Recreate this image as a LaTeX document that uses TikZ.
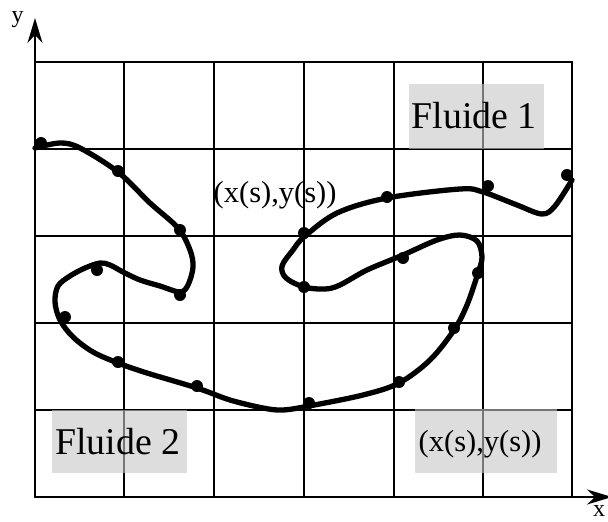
\documentclass[tikz,border=0pt]{standalone}
\usepackage{fontspec}
\setmainfont{Liberation Serif}
\usetikzlibrary{arrows.meta}
\begin{document}
\begin{tikzpicture}[x=1pt,y=-1pt,
  gridline/.style={line width=1.9pt,black,line cap=rect},
  axisline/.style={line width=1.9pt,-{Stealth[length=25pt,width=15pt,inset=8pt]}},
  curveline/.style={line width=5.3pt,line cap=round,line join=round},
  ptdot/.style={fill=black},
  labelbox/.style={fill=white!77.8!black,fill opacity=0.6,draw=none},
  bigtxt/.style={font=\fontsize{37.8}{40}\selectfont,inner sep=0pt,anchor=base west},
  midtxt/.style={font=\fontsize{30.5}{33}\selectfont,inner sep=0pt,anchor=base west},
  axtxt/.style={font=\fontsize{24}{26}\selectfont,inner sep=0pt,anchor=base west}]
\useasboundingbox (0,0) rectangle (608,522);
% grid
\foreach \x in {35,124,214,304,394,483,572} \draw[gridline] (\x,62) -- (\x,497);
\foreach \y in {62,149,236,323,410,497} \draw[gridline] (35,\y) -- (572,\y);
% axes
\coordinate (O) at (35,497);
\coordinate (ytip) at (35,18);
\coordinate (xtip) at (612,497);
\draw[axisline] (O) -- (ytip);
\draw[axisline] (O) -- (xtip);
\node[axtxt] (ylab) at (11.5,23) {y};
\node[axtxt] (xlab) at (593,516) {x};
% interface curve
\draw[curveline] plot[smooth,tension=0.55] coordinates {
 (35,148) (60,143) (80,148) (118,172) (150,203) (178,228) (190,250) (193,267)
 (188,285) (180,292) (160,286) (140,280) (123,272) (110,265) (100,263) (85,268)
 (70,276) (58,286) (55,302) (60,320) (73,337) (93,352) (118,363) (147,373)
 (197,388) (230,400) (263,408) (283,410) (309,406) (363,395) (399,383) (430,360)
 (454,330) (467,305) (478,273) (482,257) (477,241) (460,235) (437,240) (403,255)
 (367,270) (340,285) (325,289) (304,287) (286,278) (282,266) (293,250) (304,237)
 (337,213) (387,198) (460,189) (483,192) (517,205) (542,214) (555,206) (572,180)};
% marker points
\foreach \p in {(41,143),(118,171),(180,230),(180,295),(97,270),(65,317),(118,362),
  (197,386),(309,403),(399,382),(454,328),(478,273),(403,258),(304,287),(304,233),
  (387,197),(488,186),(567,175)}
  \fill[ptdot] \p circle (6);
% label boxes
\fill[labelbox] (409,84) rectangle (544,149);
\fill[labelbox] (52,410) rectangle (187,473);
\fill[labelbox] (415,409) rectangle (557,473);
% labels
\node[bigtxt] (f1) at (411.5,128.3) {Fluide 1};
\node[bigtxt] (f2) at (55,454) {Fluide 2};
\node[midtxt] (lab1) at (213.5,202) {(x(s),y(s))};
\node[midtxt] (lab2) at (418.5,451) {(x(s),y(s))};
\end{tikzpicture}
\end{document}
